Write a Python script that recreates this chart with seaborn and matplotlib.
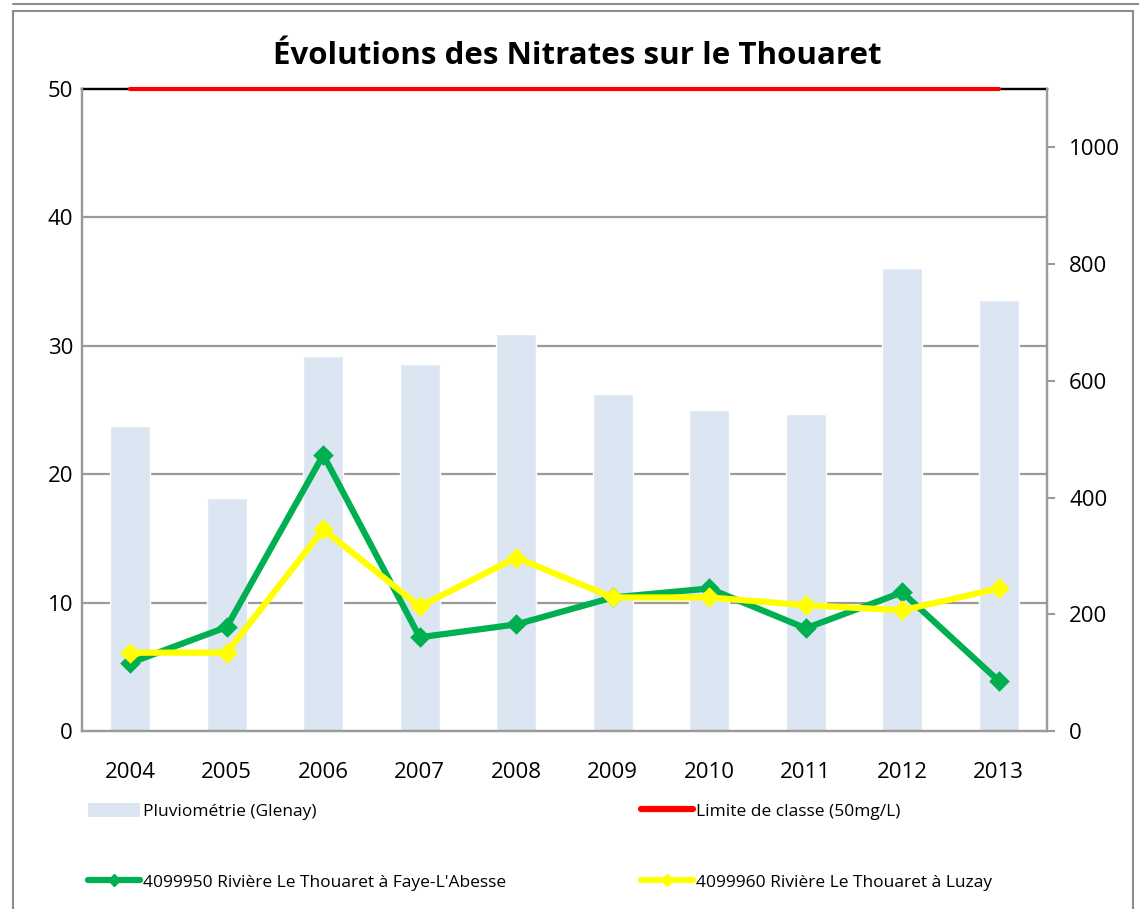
import numpy as np
import pandas as pd
import matplotlib
matplotlib.use("Agg")
import matplotlib.pyplot as plt
from matplotlib.patches import Rectangle, Patch
from matplotlib.lines import Line2D
import seaborn as sns

# ------------------------------------------------------------------
# Données
# ------------------------------------------------------------------
annees = ["2004", "2005", "2006", "2007", "2008", "2009", "2010", "2011", "2012", "2013"]
pluvio = [522, 399, 642, 628, 681, 577, 550, 543, 793, 738]          # mm, axe droit
faye = [5.3, 8.1, 21.5, 7.3, 8.3, 10.4, 11.1, 8.0, 10.8, 3.9]        # mg/L
luzay = [6.1, 6.1, 15.7, 9.7, 13.5, 10.4, 10.4, 9.8, 9.4, 11.1]      # mg/L
limite = [50] * len(annees)

lab_pluvio = "Pluviométrie (Glenay)"
lab_limite = "Limite de classe (50mg/L)"
lab_faye = "4099950 Rivière Le Thouaret à Faye-L'Abesse"
lab_luzay = "4099960 Rivière Le Thouaret à Luzay"

df = pd.DataFrame({"annee": annees, "pluvio": pluvio, "faye": faye,
                   "luzay": luzay, "limite": limite})

c_bar = "#DCE6F2"
c_faye = "#00B050"
c_luzay = "#FFFF00"
c_lim = "#FF0000"
c_grid = "#9A9A9A"

sns.set_style("white")
plt.rcParams["font.family"] = ["Open Sans", "DejaVu Sans"]
plt.rcParams["text.color"] = "black"
plt.rcParams["xtick.color"] = "black"
plt.rcParams["ytick.color"] = "black"

ymax_l, ymax_r = 50, 1100

fig = plt.figure(figsize=(11.39, 9.09), dpi=100)
rect = [82 / 1139, 1 - 731 / 909, (1047 - 82) / 1139, (731 - 89) / 909]
ax = fig.add_axes(rect)
ax_r = ax.twinx()

# ---------------- barres (axe droit) ----------------
sns.barplot(data=df, x="annee", y="pluvio", color=c_bar, width=0.41,
            saturation=1, ax=ax_r, zorder=2)
for v in [10, 20, 30, 40]:
    ax_r.axhline(v * ymax_r / ymax_l, color=c_grid, lw=1.6, zorder=1)
ax_r.set_ylim(0, ymax_r)
ax_r.set_yticks([0, 200, 400, 600, 800, 1000])
ax_r.set_ylabel("")
ax_r.tick_params(axis="y", right=True, length=6, width=1.5, color=c_grid,
                 labelcolor="black", labelsize=16, pad=10)

# ---------------- courbes (axe gauche) ----------------
ax.set_zorder(ax_r.get_zorder() + 1)
ax.patch.set_visible(False)
sns.pointplot(data=df, x="annee", y="limite", color=c_lim, markers="",
              linewidth=3, ax=ax, clip_on=False)
sns.pointplot(data=df, x="annee", y="faye", color=c_faye, markers="D",
              linewidth=4.5, markersize=7, ax=ax)
sns.pointplot(data=df, x="annee", y="luzay", color=c_luzay, markers="D",
              linewidth=4.5, markersize=7, ax=ax)
ax.set_ylim(0, ymax_l)
ax.set_xlim(-0.5, len(annees) - 0.5)
ax.set_yticks([0, 10, 20, 30, 40, 50])
ax.set_xlabel("")
ax.set_ylabel("")
ax.tick_params(axis="y", left=False, labelsize=16, pad=3)
ax.tick_params(axis="x", bottom=False, labelsize=16, pad=19)
ax_r.tick_params(axis="x", bottom=False)

for a in (ax, ax_r):
    for s in ["left", "right", "bottom"]:
        a.spines[s].set_color(c_grid)
        a.spines[s].set_linewidth(1.6)
    a.spines["top"].set_color("black")
    a.spines["top"].set_linewidth(1.6)
ax.spines["top"].set_zorder(0)

# ---------------- titre ----------------
fig.text(577 / 1139, 1 - 56 / 909, "Évolutions des Nitrates sur le Thouaret",
         ha="center", va="center", fontsize=22.5, fontweight="bold")

# ---------------- légende ----------------
handles = [
    Patch(facecolor=c_bar, edgecolor="none"),
    Line2D([], [], color=c_faye, lw=4.5, marker="D", markersize=6),
    Line2D([], [], color=c_lim, lw=4.5),
    Line2D([], [], color=c_luzay, lw=4.5, marker="D", markersize=6),
]
labels = [lab_pluvio, lab_faye, lab_limite, lab_luzay]
fig.legend(handles, labels, ncol=2, loc="upper left",
           bbox_to_anchor=(72 / 1139, 1 - 796 / 909, 936 / 1139, 0.01),
           mode="expand", frameon=False, fontsize=12.5, handlelength=3.0,
           handletextpad=0.2, labelspacing=3.1, numpoints=1,
           handleheight=0.9)

# ---------------- cadre ----------------
fig.patches.append(Rectangle((13 / 1139, -0.02), (1133 - 13) / 1139, 1 - 11 / 909 + 0.02,
                             transform=fig.transFigure, fill=False,
                             edgecolor="#8C8C8C", lw=1.5))
fig.lines.append(Line2D([13 / 1139, 1], [1 - 4 / 909, 1 - 4 / 909],
                        transform=fig.transFigure, color="#8C8C8C", lw=1.5))

fig.savefig("out.png", dpi=100)
